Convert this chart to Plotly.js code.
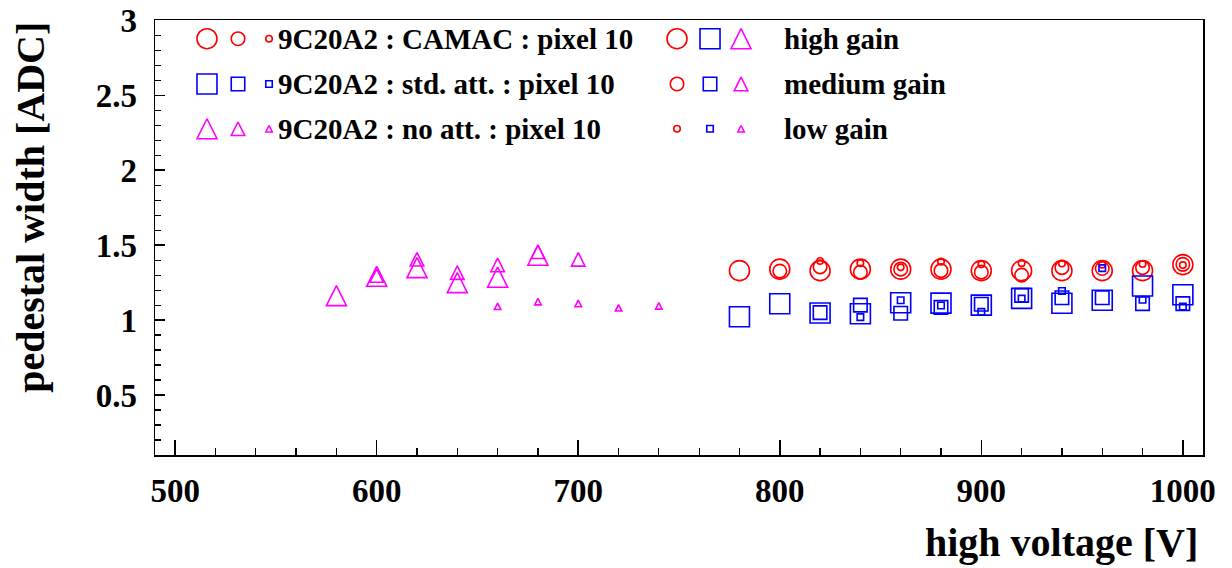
<!DOCTYPE html>
<html>
<head>
<meta charset="utf-8">
<script src="https://cdn.plot.ly/plotly-3.0.1.min.js"></script>
<style>html,body{margin:0;padding:0;background:#fff}</style>
</head>
<body>
<div id="chart" style="width:1232px;height:568px"></div>
<script>
// High voltage settings [V]
const hvCamacHigh = [780, 800, 820, 840, 860, 880, 900, 920, 940, 960, 980, 1000];
const hvCamacMedium = [800, 820, 840, 860, 880, 900, 920, 940, 960, 980, 1000];
const hvCamacLow = [820, 840, 860, 880, 900, 920, 940, 960, 980, 1000];
const hvStdHigh = [780, 800, 820, 840, 860, 880, 900, 920, 940, 960, 980, 1000];
const hvStdMedium = [820, 840, 860, 880, 900, 920, 940, 960, 980, 1000];
const hvStdLow = [840, 860, 880, 900, 920, 940, 960, 980, 1000];
const hvNoAttHigh = [580, 600, 620, 640, 660, 680];
const hvNoAttMedium = [600, 620, 640, 660, 680, 700];
const hvNoAttLow = [660, 680, 700, 720, 740];

// Pedestal width [ADC], 9C20A2 pixel 10
const camacHigh = [1.33, 1.34, 1.33, 1.34, 1.34, 1.34, 1.33, 1.33, 1.33, 1.33, 1.33, 1.37];
const camacMedium = [1.327, 1.355, 1.32, 1.34, 1.33, 1.32, 1.30, 1.35, 1.344, 1.35, 1.372];
const camacLow = [1.394, 1.38, 1.352, 1.39, 1.372, 1.38, 1.378, 1.37, 1.374, 1.367];
const stdHigh = [1.022, 1.109, 1.047, 1.042, 1.116, 1.113, 1.10, 1.145, 1.112, 1.132, 1.227, 1.169];
const stdMedium = [1.05, 1.10, 1.046, 1.085, 1.106, 1.165, 1.149, 1.149, 1.11, 1.11];
const stdLow = [1.02, 1.132, 1.097, 1.055, 1.143, 1.194, 1.347, 1.136, 1.091];
const noAttHigh = [1.163, 1.292, 1.35, 1.25, 1.286, 1.433];
const noAttMedium = [1.297, 1.406, 1.317, 1.368, 1.456, 1.405];
const noAttLow = [1.092, 1.123, 1.111, 1.082, 1.095];

// Legend labels
const seriesLabels = ['9C20A2 : CAMAC : pixel 10', '9C20A2 : std. att. : pixel 10', '9C20A2 : no att. : pixel 10'];
const gainLabels = ['high gain', 'medium gain', 'low gain'];

const RED = '#ff0000', BLUE = '#0000ff', MAGENTA = '#ff00ff';
const SIZES = [20, 13.5, 6.5];          // high / medium / low gain marker size
const LW = 1.6;
const FONT = 'Liberation Serif, Times New Roman, serif';

// Open marker styles; the triangle is an arrow shape flipped and shifted so it sits centred
function marker(kind, size, color) {
  if (kind === 'triangle') {
    return {symbol: 'arrow-down-open', angle: 180, standoff: size / 2, size: size,
            color: color, line: {width: LW, color: color}};
  }
  return {symbol: kind + '-open', size: size, color: color, line: {width: LW, color: color}};
}

function series(x, y, kind, size, color) {
  return {type: 'scatter', mode: 'markers', x: x, y: y, marker: marker(kind, size, color),
          showlegend: false, hoverinfo: 'skip', cliponaxis: false};
}

const traces = [
  series(hvCamacHigh, camacHigh, 'circle', SIZES[0], RED),
  series(hvCamacMedium, camacMedium, 'circle', SIZES[1], RED),
  series(hvCamacLow, camacLow, 'circle', SIZES[2], RED),
  series(hvStdHigh, stdHigh, 'square', SIZES[0], BLUE),
  series(hvStdMedium, stdMedium, 'square', SIZES[1], BLUE),
  series(hvStdLow, stdLow, 'square', SIZES[2], BLUE),
  series(hvNoAttHigh, noAttHigh, 'triangle', SIZES[0], MAGENTA),
  series(hvNoAttMedium, noAttMedium, 'triangle', SIZES[1], MAGENTA),
  series(hvNoAttLow, noAttLow, 'triangle', SIZES[2], MAGENTA)
];

// Legend block, placed in fractions of the frame
const legendRowY = [0.957, 0.853, 0.750];
const legendLeftX = [0.0496, 0.0792, 0.1088];
const legendRightX = [0.4981, 0.5296, 0.5592];
const legendLeftTextX = 0.1150;
const legendRightTextX = 0.5980;
const kinds = ['circle', 'square', 'triangle'];
const colors = [RED, BLUE, MAGENTA];

function legendMarker(x, y, kind, size, color) {
  return {type: 'scatter', mode: 'markers', x: [x], y: [y], xaxis: 'x2', yaxis: 'y2',
          marker: marker(kind, size, color), showlegend: false, hoverinfo: 'skip', cliponaxis: false};
}

const legendFont = {family: FONT, size: 29, weight: 'bold', color: '#000'};
const annotations = [];
for (let row = 0; row < 3; row++) {
  for (let k = 0; k < 3; k++) {
    // left: one detector setup, three gains
    traces.push(legendMarker(legendLeftX[k], legendRowY[row], kinds[row], SIZES[k], colors[row]));
    // right: one gain, three setups
    traces.push(legendMarker(legendRightX[k], legendRowY[row], kinds[k], SIZES[row], colors[k]));
  }
  annotations.push({xref: 'paper', yref: 'paper', x: legendLeftTextX, y: legendRowY[row],
    xanchor: 'left', yanchor: 'middle', showarrow: false, text: seriesLabels[row], font: legendFont});
  annotations.push({xref: 'paper', yref: 'paper', x: legendRightTextX, y: legendRowY[row],
    xanchor: 'left', yanchor: 'middle', showarrow: false, text: gainLabels[row], font: legendFont});
}

// Axis titles
annotations.push({xref: 'paper', yref: 'paper', x: 0.997, y: -0.20, xanchor: 'right', yanchor: 'middle',
  showarrow: false, text: 'high voltage [V]', font: {family: FONT, size: 40, weight: 'bold', color: '#000'}});
annotations.push({xref: 'paper', yref: 'paper', x: -0.119, y: 1.0, xanchor: 'center', yanchor: 'top',
  textangle: -90, showarrow: false, text: 'pedestal width [ADC]',
  font: {family: FONT, size: 40, weight: 'bold', color: '#000'}});

const tickFont = {family: FONT, size: 33, weight: 'bold', color: '#000'};

const layout = {
  width: 1232, height: 568,
  margin: {l: 155, r: 29, t: 20, b: 113},
  paper_bgcolor: '#fff', plot_bgcolor: '#fff',
  showlegend: false, hovermode: false,
  xaxis: {
    range: [490, 1010], tick0: 500, dtick: 100, ticks: 'inside', ticklen: 15, tickwidth: 1.5,
    tickcolor: '#000', showline: true, linecolor: '#000', linewidth: 1.5, mirror: true,
    showgrid: false, zeroline: false, tickfont: tickFont, ticklabelstandoff: 6,
    ticklabeloverflow: 'allow',
    minor: {dtick: 20, ticks: 'inside', ticklen: 7, tickwidth: 1.2, tickcolor: '#000', showgrid: false}
  },
  yaxis: {
    range: [0.1, 3.002], tick0: 0, dtick: 0.5, ticks: 'inside', ticklen: 10, tickwidth: 1.5,
    tickcolor: '#000', showline: true, linecolor: '#000', linewidth: 1.5, mirror: true,
    showgrid: false, zeroline: false, tickfont: tickFont, ticklabelstandoff: 10,
    ticklabeloverflow: 'allow',
    minor: {dtick: 0.1, ticks: 'inside', ticklen: 6, tickwidth: 1.2, tickcolor: '#000', showgrid: false}
  },
  xaxis2: {overlaying: 'x', anchor: 'y2', range: [0, 1], visible: false, fixedrange: true},
  yaxis2: {overlaying: 'y', anchor: 'x2', range: [0, 1], visible: false, fixedrange: true},
  annotations: annotations
};

Plotly.newPlot('chart', traces, layout, {displayModeBar: false, staticPlot: true});
</script>
</body>
</html>
